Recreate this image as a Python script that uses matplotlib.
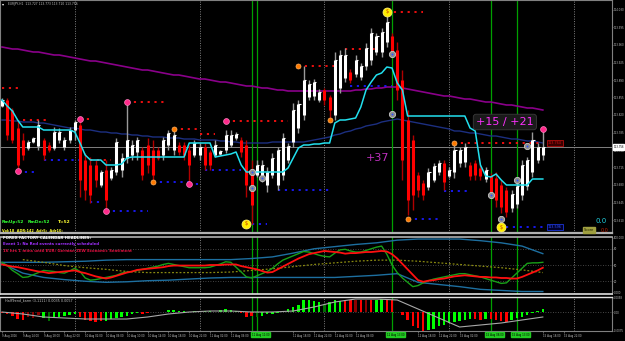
import numpy as np
import matplotlib
matplotlib.use("Agg")
import matplotlib.pyplot as plt

W, H = 625, 341

# ---- EURJPY H1 candles ----
high = [113.854, 113.854, 113.834, 113.810, 113.784, 113.770, 113.776, 113.810, 113.774, 113.766,
        113.796, 113.794, 113.776, 113.796, 113.810, 113.812, 113.744, 113.736, 113.730, 113.710,
        113.730, 113.716, 113.774, 113.744, 113.846, 113.770, 113.776, 113.756, 113.774, 113.770,
        113.756, 113.776, 113.790, 113.792, 113.766, 113.766, 113.760, 113.770, 113.764, 113.764,
        113.750, 113.770, 113.750, 113.790, 113.790, 113.786, 113.776, 113.770, 113.730, 113.730,
        113.730, 113.716, 113.744, 113.756, 113.784, 113.764, 113.844, 113.850, 113.918, 113.890,
        113.892, 113.872, 113.874, 113.860, 113.946, 113.950, 113.954, 113.912, 113.940, 113.924,
        113.964, 113.994, 113.984, 113.994, 114.026, 113.984, 113.966, 113.910, 113.830, 113.780,
        113.706, 113.690, 113.714, 113.724, 113.730, 113.730, 113.716, 113.764, 113.756, 113.764,
        113.726, 113.730, 113.720, 113.716, 113.704, 113.706, 113.690, 113.676, 113.670, 113.684,
        113.730, 113.736, 113.786, 113.764, 113.790]
low = [113.836, 113.770, 113.764, 113.706, 113.730, 113.750, 113.764, 113.750, 113.730, 113.746,
       113.750, 113.764, 113.750, 113.764, 113.770, 113.656, 113.650, 113.644, 113.676, 113.676,
       113.628, 113.690, 113.700, 113.696, 113.724, 113.730, 113.730, 113.690, 113.704, 113.686,
       113.730, 113.730, 113.750, 113.740, 113.740, 113.730, 113.682, 113.736, 113.730, 113.710,
       113.710, 113.736, 113.740, 113.744, 113.756, 113.770, 113.736, 113.656, 113.602, 113.696,
       113.686, 113.666, 113.694, 113.670, 113.690, 113.724, 113.756, 113.784, 113.810, 113.850,
       113.850, 113.846, 113.840, 113.810, 113.810, 113.864, 113.886, 113.884, 113.896, 113.890,
       113.910, 113.920, 113.940, 113.936, 113.956, 113.936, 113.850, 113.690, 113.620, 113.630,
       113.656, 113.650, 113.670, 113.686, 113.700, 113.670, 113.694, 113.694, 113.716, 113.716,
       113.690, 113.690, 113.690, 113.686, 113.656, 113.636, 113.624, 113.616, 113.626, 113.634,
       113.650, 113.670, 113.696, 113.724, 113.730]
open_ = [113.838, 113.850, 113.830, 113.794, 113.770, 113.754, 113.766, 113.758, 113.770, 113.760,
         113.754, 113.770, 113.756, 113.770, 113.790, 113.800, 113.730, 113.720, 113.720, 113.680,
         113.710, 113.694, 113.706, 113.710, 113.734, 113.740, 113.746, 113.750, 113.760, 113.750,
         113.750, 113.740, 113.760, 113.750, 113.760, 113.760, 113.750, 113.740, 113.740, 113.756,
         113.746, 113.740, 113.742, 113.750, 113.760, 113.774, 113.770, 113.760, 113.710, 113.700,
         113.694, 113.680, 113.700, 113.680, 113.700, 113.730, 113.766, 113.794, 113.820, 113.856,
         113.858, 113.850, 113.870, 113.856, 113.820, 113.874, 113.894, 113.906, 113.902, 113.896,
         113.918, 113.930, 113.946, 113.946, 113.966, 113.978, 113.950, 113.890, 113.810, 113.770,
         113.700, 113.684, 113.676, 113.690, 113.706, 113.724, 113.698, 113.706, 113.724, 113.726,
         113.720, 113.724, 113.714, 113.692, 113.698, 113.694, 113.680, 113.670, 113.634, 113.642,
         113.660, 113.678, 113.706, 113.730, 113.740]
close = [113.850, 113.780, 113.770, 113.720, 113.740, 113.766, 113.774, 113.800, 113.740, 113.750,
         113.786, 113.786, 113.770, 113.790, 113.806, 113.690, 113.670, 113.660, 113.690, 113.706,
         113.650, 113.710, 113.766, 113.734, 113.770, 113.760, 113.770, 113.700, 113.720, 113.700,
         113.734, 113.770, 113.784, 113.780, 113.746, 113.740, 113.720, 113.764, 113.756, 113.720,
         113.720, 113.760, 113.748, 113.780, 113.780, 113.782, 113.746, 113.680, 113.640, 113.720,
         113.720, 113.706, 113.734, 113.750, 113.774, 113.758, 113.830, 113.842, 113.890, 113.882,
         113.886, 113.866, 113.850, 113.830, 113.930, 113.940, 113.940, 113.890, 113.930, 113.918,
         113.954, 113.984, 113.978, 113.986, 114.006, 113.946, 113.870, 113.730, 113.650, 113.660,
         113.670, 113.660, 113.706, 113.718, 113.724, 113.686, 113.710, 113.750, 113.750, 113.756,
         113.698, 113.700, 113.698, 113.710, 113.666, 113.650, 113.636, 113.626, 113.662, 113.678,
         113.720, 113.730, 113.770, 113.756, 113.756]

# ---- moving lines on price ----
cyan_line = [113.850, 113.838, 113.828, 113.810, 113.796, 113.796, 113.796, 113.796, 113.790, 113.790,
             113.790, 113.790, 113.790, 113.790, 113.786, 113.764, 113.740, 113.730, 113.730, 113.730,
             113.720, 113.720, 113.720, 113.722, 113.734, 113.736, 113.736, 113.736, 113.736, 113.736,
             113.736, 113.736, 113.736, 113.736, 113.736, 113.736, 113.764, 113.764, 113.764, 113.764,
             113.764, 113.736, 113.738, 113.740, 113.742, 113.746, 113.720, 113.706, 113.706, 113.706,
             113.706, 113.706, 113.706, 113.706, 113.706, 113.714, 113.734, 113.754, 113.760, 113.760,
             113.762, 113.762, 113.764, 113.764, 113.804, 113.810, 113.810, 113.812, 113.814, 113.836,
             113.870, 113.886, 113.900, 113.904, 113.916, 113.914, 113.884, 113.870, 113.818, 113.818,
             113.818, 113.818, 113.818, 113.818, 113.818, 113.818, 113.818, 113.818, 113.818, 113.818,
             113.794, 113.788, 113.720, 113.698, 113.696, 113.702, 113.690, 113.680, 113.680, 113.680,
             113.680, 113.680, 113.692, 113.692, 113.692]
navy_line = [113.810, 113.810, 113.808, 113.808, 113.806, 113.806, 113.806, 113.804, 113.804, 113.802,
             113.800, 113.798, 113.796, 113.794, 113.794, 113.792, 113.790, 113.790, 113.788, 113.786,
             113.786, 113.784, 113.784, 113.782, 113.782, 113.780, 113.780, 113.778, 113.778, 113.776,
             113.776, 113.776, 113.774, 113.774, 113.774, 113.772, 113.772, 113.772, 113.770, 113.770,
             113.770, 113.770, 113.768, 113.768, 113.766, 113.766, 113.764, 113.764, 113.764, 113.764,
             113.764, 113.764, 113.766, 113.766, 113.766, 113.766, 113.766, 113.766, 113.766, 113.768,
             113.770, 113.772, 113.774, 113.776, 113.780, 113.782, 113.786, 113.788, 113.792, 113.794,
             113.798, 113.800, 113.802, 113.806, 113.808, 113.810, 113.812, 113.810, 113.808, 113.806,
             113.804, 113.802, 113.800, 113.798, 113.796, 113.794, 113.792, 113.788, 113.788, 113.786,
             113.784, 113.784, 113.782, 113.780, 113.778, 113.778, 113.776, 113.774, 113.772, 113.772,
             113.770, 113.768, 113.768, 113.766, 113.764]
purple_line = [113.956, 113.954, 113.952, 113.952, 113.950, 113.948, 113.946, 113.946, 113.944, 113.942,
               113.940, 113.940, 113.938, 113.936, 113.934, 113.932, 113.930, 113.928, 113.928, 113.926,
               113.924, 113.922, 113.920, 113.918, 113.916, 113.914, 113.912, 113.910, 113.910, 113.908,
               113.906, 113.904, 113.902, 113.900, 113.900, 113.898, 113.896, 113.894, 113.892, 113.892,
               113.890, 113.888, 113.886, 113.886, 113.884, 113.882, 113.880, 113.878, 113.878, 113.876,
               113.874, 113.874, 113.872, 113.870, 113.870, 113.868, 113.868, 113.868, 113.868, 113.868,
               113.868, 113.868, 113.868, 113.868, 113.868, 113.868, 113.868, 113.868, 113.870, 113.870,
               113.872, 113.872, 113.874, 113.874, 113.876, 113.876, 113.876, 113.874, 113.872, 113.870,
               113.868, 113.866, 113.864, 113.862, 113.860, 113.858, 113.858, 113.856, 113.854, 113.852,
               113.852, 113.850, 113.848, 113.846, 113.846, 113.844, 113.842, 113.840, 113.840, 113.838,
               113.836, 113.834, 113.834, 113.832, 113.830]

# ---- support / resistance levels (start bar, end bar, price) ----
res_start = [0, 4, 15, 17, 24, 33, 38, 43, 57, 66, 74, 87]
res_end = [3, 9, 17, 21, 32, 38, 41, 55, 64, 72, 81, 104]
res_price = [113.874, 113.810, 113.812, 113.730, 113.846, 113.792, 113.782, 113.808, 113.918, 113.952, 114.026, 113.764]
sup_start = [3, 8, 17, 20, 29, 36, 39, 48, 53, 67, 78, 85, 97]
sup_end = [7, 15, 19, 28, 36, 38, 46, 51, 63, 75, 84, 90, 104]
sup_price = [113.706, 113.730, 113.646, 113.628, 113.686, 113.682, 113.710, 113.602, 113.670, 113.878, 113.612, 113.668, 113.596]

pink_bar = [3, 15, 20, 24, 36, 43, 104]
pink_price = [113.708, 113.812, 113.628, 113.846, 113.682, 113.808, 113.792]
orange_bar = [29, 33, 57, 63, 78, 87]
orange_price = [113.686, 113.792, 113.918, 113.810, 113.612, 113.764]
yellow_bar = [47, 74, 96]
yellow_price = [113.602, 114.026, 113.596]
gray_bar = [48, 48, 50, 75, 75, 94, 96, 99, 101]
gray_price = [113.706, 113.674, 113.694, 113.942, 113.822, 113.660, 113.612, 113.690, 113.758]

price_ticks = [114.030, 113.995, 113.960, 113.925, 113.890, 113.855, 113.820, 113.785,
               113.750, 113.715, 113.680, 113.645, 113.610]
last_price = 113.756

# ---- oscillator panel ----
osc_red = [51, 49, 47, 46, 44, 42, 40, 38, 37, 35,
           36, 37, 38, 39, 40, 37, 35, 32, 29, 27,
           25, 27, 30, 33, 36, 38, 41, 42, 43, 44,
           45, 46, 48, 49, 49, 49, 49, 49, 49, 49,
           50, 50, 50, 51, 51, 51, 48, 46, 44, 42,
           39, 36, 37, 42, 47, 52, 57, 62, 66, 70,
           72, 74, 76, 75, 74, 73, 71, 72, 72, 73,
           74, 74, 75, 76, 75, 70, 62, 52, 42, 32,
           22, 19, 21, 22, 24, 25, 27, 29, 30, 31,
           30, 29, 28, 28, 27, 27, 26, 26, 25, 25,
           28, 32, 36, 40, 45]
osc_green = [55, 49, 40, 34, 27, 28, 32, 36, 40, 39,
             38, 36, 35, 39, 44, 38, 26, 22, 23, 25,
             27, 29, 31, 35, 37, 38, 40, 42, 44, 46,
             48, 51, 53, 51, 49, 47, 45, 45, 45, 45,
             46, 49, 52, 56, 55, 46, 37, 28, 26, 30,
             34, 38, 44, 52, 59, 63, 67, 71, 75, 74,
             71, 68, 66, 65, 72, 78, 79, 76, 74, 74,
             77, 80, 83, 85, 70, 50, 36, 26, 18, 10,
             12, 17, 21, 24, 26, 28, 30, 32, 34, 34,
             32, 30, 28, 25, 22, 19, 16, 17, 26, 35,
             44, 53, 54, 54, 55]
band_bars = [0, 4, 8, 12, 16, 20, 24, 28, 32, 36, 40, 44, 48, 52, 56, 60, 64, 68, 72, 76,
             80, 84, 88, 92, 96, 100, 104]
band_upper = [55, 55, 55, 56, 57, 59, 60, 60, 60, 60, 60, 60, 62, 65, 72, 80, 84, 88, 91, 96,
              98, 98, 98, 95, 91, 85, 71]
band_lower = [53, 35, 27, 23, 20, 18, 19, 21, 22, 24, 26, 27, 27, 27, 27, 27, 27, 29, 31, 34,
              18, 14, 10, 5, 3, 1, 1]
olive_mid = [60, 55, 49, 45, 42, 38, 36, 36, 36, 36, 37, 40, 43, 47, 51, 54, 57, 59, 59, 57,
             54, 51, 48, 45, 41, 36]

# ---- HalfTrend histogram ----
hist = [-0.0004, -0.0008, -0.0016, -0.0028, -0.0032, -0.0020, -0.0024, -0.0012, -0.0024, -0.0036,
        -0.0024, -0.0020, -0.0016, -0.0012, -0.0008, -0.0020, -0.0032, -0.0036, -0.0040, -0.0036,
        -0.0036, -0.0028, -0.0024, -0.0020, -0.0016, -0.0008, -0.0004, -0.0008, -0.0004, -0.0001,
        0.0002, 0.0002, 0.0008, 0.0008, 0.0004, 0.0004, 0.0002, 0.0004, 0.0002, 0.0004,
        0.0004, 0.0002, 0.0008, 0.0012, 0.0008, 0.0004, -0.0004, -0.0020, -0.0016, -0.0020,
        -0.0016, -0.0008, -0.0008, -0.0004, 0.0004, 0.0012, 0.0020, 0.0028, 0.0048, 0.0048,
        0.0044, 0.0040, 0.0032, 0.0040, 0.0048, 0.0044, 0.0048, 0.0048, 0.0048, 0.0048,
        0.0048, 0.0048, 0.0048, 0.0052, 0.0048, 0.0048, 0.0000, -0.0012, -0.0032, -0.0056,
        -0.0064, -0.0076, -0.0072, -0.0068, -0.0056, -0.0052, -0.0044, -0.0040, -0.0036, -0.0032,
        -0.0028, -0.0028, -0.0032, -0.0028, -0.0028, -0.0032, -0.0036, -0.0040, -0.0032, -0.0024,
        -0.0020, -0.0012, -0.0004, 0.0004, 0.0012]
hist_codes = ("rrrrr" + "ddd" + "g" + "k" + "ggggg" + "rrrrr" + "ggggggg" + "rrr" + "gggggg" + "r"
              + "gggg" + "r" + "gggg" + "rrr" + "k" + "gggg" + "gggggggg" + "k" + "ggg" + "rr"
              + "d" + "r" + "d" + "r" + "gg" + "rrrrrrrr" + "ggggggggg" + "rr" + "g" + "rrrr" + "ggggggg")
signal_vals = [0, -0.0008, -0.0020, -0.0024, -0.0028, -0.0028, -0.0028, -0.0020, -0.0008, 0,
               0.0004, 0.0004, 0, 0, 0.0004, 0.0020, 0.0040, 0.0052, 0.0052, 0.0048,
               0.0012, -0.0024, -0.0060, -0.0052, -0.0044, -0.0032, -0.0020]

day_breaks = [14, 38, 62, 86, 110]
event_bars = [48, 49, 75, 94, 99]
event_labels = ["11 Aug 10:00", "11 Aug 11:00", "12 Aug 13:00", "15 Aug 08:00", "15 Aug 13:00"]
time_pos = [0, 4, 8, 12, 16, 20, 24, 28, 32, 36, 40, 44, 48, 52, 56, 60, 64, 68, 72, 76,
            80, 84, 88, 92, 96, 100, 104, 108]
time_labels = ["9 Aug 2016", "9 Aug 14:00", "9 Aug 18:00", "9 Aug 22:00", "10 Aug 02:00",
               "10 Aug 06:00", "10 Aug 10:00", "10 Aug 14:00", "10 Aug 18:00", "10 Aug 22:00",
               "11 Aug 02:00", "11 Aug 06:00", "11 Aug 10:00", "11 Aug 14:00", "11 Aug 18:00",
               "11 Aug 22:00", "12 Aug 02:00", "12 Aug 06:00", "12 Aug 10:00", "12 Aug 14:00",
               "12 Aug 18:00", "12 Aug 22:00", "15 Aug 02:00", "15 Aug 06:00", "15 Aug 10:00",
               "15 Aug 14:00", "15 Aug 18:00", "15 Aug 22:00"]

# ---------------------------------------------------------------
GRAY = '#808080'
TXT = '#c0c0c0'
XL = (-0.385, 117.3)
TS = 1.9  # right-axis text size

fig = plt.figure(figsize=(W / 100, H / 100), dpi=100)
fig.patch.set_facecolor('black')

ax = fig.add_axes([0, 1 - 233 / H, 612 / W, 233 / H])
ax2 = fig.add_axes([0, 1 - 294 / H, 612 / W, 57 / H])
ax3 = fig.add_axes([0, 1 - 331 / H, 612 / W, 34 / H])

for a in (ax, ax2, ax3):
    a.set_facecolor('black')
    a.set_xlim(*XL)
    for s in a.spines.values():
        s.set_color(GRAY)
        s.set_linewidth(0.8)
    a.yaxis.tick_right()
    a.tick_params(axis='y', colors=GRAY, labelcolor=TXT, labelsize=TS, length=1.0, width=0.5, pad=0.4)
    a.tick_params(axis='x', bottom=False, labelbottom=False)
    for d in day_breaks:
        a.axvline(d, color=GRAY, lw=0.7, ls=(0, (1, 1.5)))
    for e in event_bars:
        a.axvline(e, color='#00a000', lw=0.9)

ax.spines['bottom'].set_color('#b0b0b0')
ax.spines['bottom'].set_linewidth(1.6)
ax2.spines['top'].set_color('#b0b0b0')
ax2.spines['top'].set_linewidth(1.2)
ax2.spines['bottom'].set_color('#e0e0e0')
ax2.spines['bottom'].set_linewidth(1.2)
ax3.spines['top'].set_color('#e0e0e0')
ax3.spines['top'].set_linewidth(1.0)

# ---- main price panel ----
x = np.arange(len(close))
hi_a, lo_a, op_a, cl_a = map(np.array, (high, low, open_, close))
bull = cl_a >= op_a

ax.set_ylim(113.584, 114.050)
ax.set_yticks(price_ticks)
ax.set_yticklabels([f"{p:.3f}" for p in price_ticks])

ax.plot(x, purple_line, color='#8a008a', lw=1.2, zorder=2)
ax.plot(x, navy_line, color='#1c2f80', lw=1.0, zorder=2)
ax.axhline(last_price, color=GRAY, lw=0.7, zorder=1)

dot = (0, (1.2, 2.6))
for s, e, p in zip(res_start, res_end, res_price):
    ax.hlines(p, s, e, colors='#ff1010', lw=1.3, linestyles=dot, zorder=3)
for s, e, p in zip(sup_start, sup_end, sup_price):
    ax.hlines(p, s, e, colors='#1a1aff', lw=1.3, linestyles=dot, zorder=3)

wick_col = np.where(bull, '#9a9a9a', '#b00000')
body_col = np.where(bull, '#ffffff', '#ff0000')
ax.vlines(x, lo_a, hi_a, colors=wick_col, lw=1.0, zorder=4)
ax.vlines(x, np.minimum(op_a, cl_a), np.maximum(op_a, cl_a), colors=body_col, lw=2.2, zorder=5)
ax.hlines(cl_a[bull], x[bull], x[bull] + 0.4, colors='white', lw=0.8, zorder=5)

ax.plot(x, cyan_line, color='#22e0ee', lw=1.1, zorder=6)

ax.plot(gray_bar, gray_price, 'o', ms=4.5, mfc='#8c8c8c', mec='#c8c8c8', mew=0.6, zorder=7)
ax.plot(gray_bar, gray_price, 'o', ms=1.4, mfc='#3050ff', mec='none', zorder=8)
ax.plot(pink_bar, pink_price, 'o', ms=4.2, mfc='#ff2a8a', mec='#ff80c0', mew=0.5, zorder=7)
ax.plot(orange_bar, orange_price, 'o', ms=3.6, mfc='#ff7a00', mec='#ffb060', mew=0.5, zorder=7)
ax.plot(yellow_bar, yellow_price, 'o', ms=6.5, mfc='#ffee00', mec='#fff080', mew=0.5, zorder=7)
for b, p in zip(yellow_bar, yellow_price):
    ax.text(b, p, "$", color='#c03000', fontsize=3.5, ha='center', va='center', zorder=8)

ax.text(105.0, res_price[-1], f"{res_price[-1]:.3f}", color='#d01010', fontsize=2.4, va='center',
        bbox=dict(fc='#3a0000', ec='#d01010', lw=0.5, pad=0.5), zorder=9)
ax.text(105.0, sup_price[-1], f"{sup_price[-1]:.3f}", color='#3050ff', fontsize=2.4, va='center',
        bbox=dict(fc='#00002a', ec='#2040ff', lw=0.5, pad=0.5), zorder=9)

ax.text(72.2, 113.734, "+37", color='#c030c0', fontsize=8, ha='center', va='center', zorder=9)
ax.text(96.7, 113.806, "+15 / +21", color='#ff30ff', fontsize=8, ha='center', va='center', zorder=9,
        bbox=dict(fc='#1a1a1a', ec='#3a3a3a', lw=0.6, boxstyle='round,pad=0.25'))

ax.text(1.002, last_price, f"{last_price:.3f}", transform=ax.get_yaxis_transform(), color='black',
        fontsize=TS, ha='left', va='center', bbox=dict(fc='white', ec='white', pad=0.4), zorder=10,
        clip_on=False)

# ---- oscillator panel ----
ax2.set_ylim(-3.6, 101.8)
for lvl in (80, 50, 20):
    ax2.axhline(lvl, color='#5a5a5a', lw=0.6, ls=(0, (1, 2)))
ax2.plot(band_bars, band_upper, color='#1d6fa0', lw=1.0)
ax2.plot(band_bars, band_lower, color='#1d6fa0', lw=1.0)
ax2.plot(band_bars[1:], olive_mid, color='#8a8a10', lw=0.9, ls=(0, (1.5, 1.5)))
ax2.plot(x, osc_green, color='#18a018', lw=1.0)
ax2.plot(x, osc_red, color='#ff1010', lw=1.3)
ax2.set_yticks([100, 80, 50, 20, 0])
ax2.set_yticklabels(["100.000", "80", "50", "20", "0.000"])

# ---- histogram panel ----
cmap = {'r': '#ff0000', 'd': '#8b0000', 'g': '#00ff00', 'k': '#007000'}
ax3.set_ylim(-0.0076, 0.0060)
ax3.axhline(0, color='#606060', lw=0.6, ls=(0, (1, 2)))
ax3.bar(x, hist, width=0.45, color=[cmap[c] for c in hist_codes], zorder=3)
ax3.plot(band_bars, signal_vals, color='#a8a8a8', lw=0.8, zorder=4)
ax3.set_yticks([0.0058, 0.0, -0.0075])
ax3.set_yticklabels(["0.0058", "0.00", "-0.0075"])
ax3.text(0.5, 0.0048, "HalfTrend_karm (3,1111) 0.0035 0.0057", color=TXT, fontsize=2.4, va='center')

# time axis: plain labels, hidden where an event label sits on top
keep = [i for i, p in enumerate(time_pos) if min(abs(p - e) for e in event_bars) > 3]
ax3.tick_params(axis='x', bottom=True, labelbottom=True, colors=GRAY, labelcolor=TXT,
                labelsize=1.9, length=1.5, width=0.5, pad=1)
ax3.set_xticks([time_pos[i] for i in keep])
ax3.set_xticklabels([time_labels[i] for i in keep], ha='left')
for b, lab in zip(event_bars[1:], event_labels[1:]):
    ax3.text(b - 1, -0.05, lab, transform=ax3.get_xaxis_transform(), color='black', fontsize=1.9,
             ha='left', va='top', bbox=dict(fc='#22cc22', ec='#22cc22', pad=0.4), clip_on=False)

# ---- overlay texts ----
def ftxt(px, py, s, **kw):
    fig.text(px / W, 1 - py / H, s, va='center', **kw)

ftxt(2, 4, "\u25be", color='white', fontsize=3.0)
ftxt(8, 4, "EURJPY,H1  113.727 113.773 113.710 113.756", color=TXT, fontsize=2.2)
ftxt(2, 222, "RmUp:52", color='#33ff33', fontsize=3.2, fontweight='bold')
ftxt(28, 222, "RmDn:52", color='#33ff33', fontsize=3.2, fontweight='bold')
ftxt(58, 222, "T=52", color='#ffff33', fontsize=3.2, fontweight='bold')
ftxt(2, 231, "Vol:18  ADR:142  Adr5:  Adr10:", color='#ffff33', fontsize=2.5, fontweight='bold')
ftxt(3, 238, "FOREX FACTORY CALENDAR HEADLINES:", color='white', fontsize=2.8, fontweight='bold')
ftxt(3, 244, "Event 1: No Red events currently scheduled", color='#a030ff', fontsize=2.8, fontweight='bold')
ftxt(3, 251, "16 hrs 1 mins until EUR: German ZEW Economic Sentiment", color='#e01040',
     fontsize=2.8, fontweight='bold')
ftxt(595, 221, "0.0", color='#20d0e0', fontsize=5.0)
fig.text(584 / W, 1 - 230 / H, "Score", color='#202000', fontsize=2.6, va='center',
         bbox=dict(fc='#a0a040', ec='#a0a040', pad=0.4))
ftxt(601, 230, "0.0", color='#c02000', fontsize=3.5)

fig.savefig("out.png", dpi=100, facecolor='black')
